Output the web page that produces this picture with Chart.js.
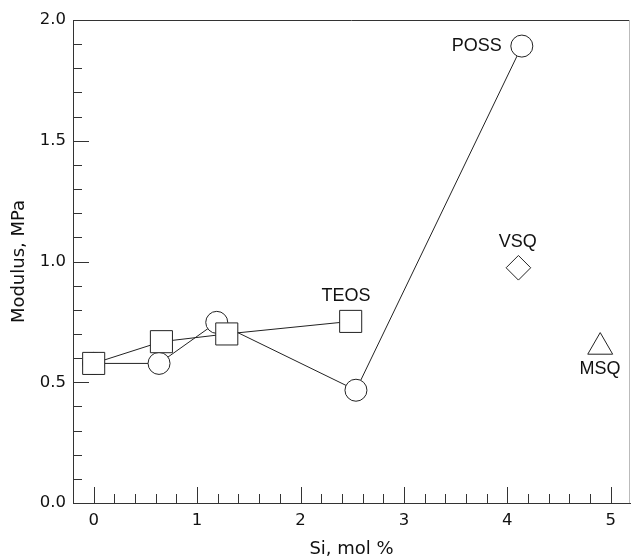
<!DOCTYPE html>
<html>
<head>
<meta charset="utf-8">
<script src="https://cdn.jsdelivr.net/npm/chart.js@4.4.1/dist/chart.umd.min.js"></script>
<style>
  html, body { margin: 0; padding: 0; background: #fff; overflow: hidden; }
  #wrap { width: 631px; height: 558px; position: relative; }
  canvas { display: block; }
</style>
</head>
<body>
<div id="wrap"><canvas id="modChart"></canvas></div>
<script>
// data
const teosX = [0, 0.655, 1.287, 2.485];
const teosY = [0.578, 0.668, 0.700, 0.752];
const possX = [0, 0.632, 1.19, 2.536, 4.14];
const possY = [0.578, 0.578, 0.748, 0.467, 1.892];
const vsqX = [4.107];
const vsqY = [0.974];
const msqX = [4.898];
const msqY = [0.646];

// axis ticks
const xMajor = [0, 1, 2, 3, 4, 5];
const xMinor = [0.2, 0.4, 0.6, 0.8, 1.2, 1.4, 1.6, 1.8, 2.2, 2.4, 2.6, 2.8, 3.2, 3.4, 3.6, 3.8, 4.2, 4.4, 4.6, 4.8];
const yMajor = [0, 0.5, 1.0, 1.5, 2.0];
const yMinor = [0.1, 0.2, 0.3, 0.4, 0.6, 0.7, 0.8, 0.9, 1.1, 1.2, 1.3, 1.4, 1.6, 1.7, 1.8, 1.9];

// text labels next to the points (data coords of text centre)
const labelText = ['POSS', 'VSQ', 'TEOS', 'MSQ'];
const labelX = [3.704, 4.10, 2.44, 4.896];
const labelY = [1.894, 1.081, 0.858, 0.554];

const toPts = (xs, ys) => xs.map((x, i) => ({ x: x, y: ys[i] }));
const ink = '#222';
const arial = 'Liberation Sans, Arial, Helvetica, sans-serif';
const wide = 'DejaVu Sans, Verdana, sans-serif';

// inward tick marks, frame and labels
const decor = {
  id: 'decor',
  beforeDatasetsDraw(chart) {
    const { ctx, chartArea: a, scales: { x, y } } = chart;
    ctx.save();
    ctx.strokeStyle = '#333';
    ctx.lineWidth = 1;
    ctx.beginPath();
    ctx.moveTo(a.left, a.top + 0.5);
    ctx.lineTo(a.right, a.top + 0.5);
    ctx.stroke();
    ctx.strokeStyle = '#bbb';
    ctx.beginPath();
    ctx.moveTo(a.right - 0.5, a.top);
    ctx.lineTo(a.right - 0.5, a.bottom);
    ctx.stroke();

    ctx.strokeStyle = '#333';
    ctx.beginPath();
    xMajor.forEach(v => {
      const px = Math.round(x.getPixelForValue(v)) + 0.5;
      ctx.moveTo(px, a.bottom); ctx.lineTo(px, a.bottom - 16);
    });
    xMinor.forEach(v => {
      const px = Math.round(x.getPixelForValue(v)) + 0.5;
      ctx.moveTo(px, a.bottom); ctx.lineTo(px, a.bottom - 9);
    });
    yMajor.forEach(v => {
      const py = Math.round(y.getPixelForValue(v)) + 0.5;
      ctx.moveTo(a.left, py); ctx.lineTo(a.left + 16, py);
    });
    yMinor.forEach(v => {
      const py = Math.round(y.getPixelForValue(v)) + 0.5;
      ctx.moveTo(a.left, py); ctx.lineTo(a.left + 9, py);
    });
    ctx.stroke();
    ctx.restore();
  },
  afterDatasetsDraw(chart) {
    const { ctx, scales: { x, y } } = chart;
    ctx.save();
    ctx.fillStyle = '#111';
    ctx.font = '18px ' + arial;
    ctx.textAlign = 'center';
    ctx.textBaseline = 'middle';
    labelText.forEach((t, i) => {
      ctx.fillText(t, x.getPixelForValue(labelX[i]), y.getPixelForValue(labelY[i]));
    });
    ctx.restore();
  }
};

const marker = {
  borderColor: ink,
  backgroundColor: '#fff',
  pointBackgroundColor: '#fff',
  pointBorderColor: ink,
  pointBorderWidth: 1,
  borderWidth: 1,
  clip: false
};

new Chart(document.getElementById('modChart'), {
  type: 'scatter',
  data: {
    datasets: [
      { ...marker, label: 'TEOS', data: toPts(teosX, teosY), showLine: true, pointStyle: 'rect', pointRadius: 15.6 },
      { ...marker, label: 'POSS', data: toPts(possX, possY), showLine: true, pointStyle: 'circle', pointRadius: 11 },
      { ...marker, label: 'VSQ', data: toPts(vsqX, vsqY), pointStyle: 'rectRot', pointRadius: 12.3 },
      { ...marker, label: 'MSQ', data: toPts(msqX, msqY), pointStyle: 'triangle', pointRadius: 14.4 }
    ]
  },
  options: {
    responsive: true,
    maintainAspectRatio: false,
    animation: false,
    layout: { autoPadding: false, padding: { top: 20, right: 1, left: 0, bottom: 0 } },
    plugins: { legend: { display: false }, tooltip: { enabled: false } },
    scales: {
      x: {
        type: 'linear',
        min: -0.2,
        max: 5.186,
        afterBuildTicks: s => { s.ticks = xMajor.map(v => ({ value: v })); },
        afterFit: s => { s.height = 55; s.paddingLeft = 0; s.paddingRight = 0; },
        grid: { display: false, drawTicks: false },
        border: { display: true, color: '#333', width: 1 },
        ticks: { color: '#111', padding: 8, maxRotation: 0, font: { family: wide, size: 16.5 }, callback: v => String(v) },
        title: { display: true, text: 'Si, mol %', color: '#111', padding: { top: 0, bottom: -2 }, font: { family: wide, size: 18 } }
      },
      y: {
        type: 'linear',
        min: 0,
        max: 2.0,
        afterBuildTicks: s => { s.ticks = yMajor.map(v => ({ value: v })); },
        afterFit: s => { s.width = 73; s.paddingTop = 0; s.paddingBottom = 0; },
        grid: { display: false, drawTicks: false },
        border: { display: true, color: '#333', width: 1 },
        ticks: { color: '#111', padding: 7, font: { family: wide, size: 16.5 }, callback: v => v.toFixed(1) },
        title: { display: true, text: 'Modulus, MPa', color: '#111', padding: { top: 9, bottom: 0 }, font: { family: wide, size: 18 } }
      }
    }
  },
  plugins: [decor]
});
</script>
</body>
</html>
